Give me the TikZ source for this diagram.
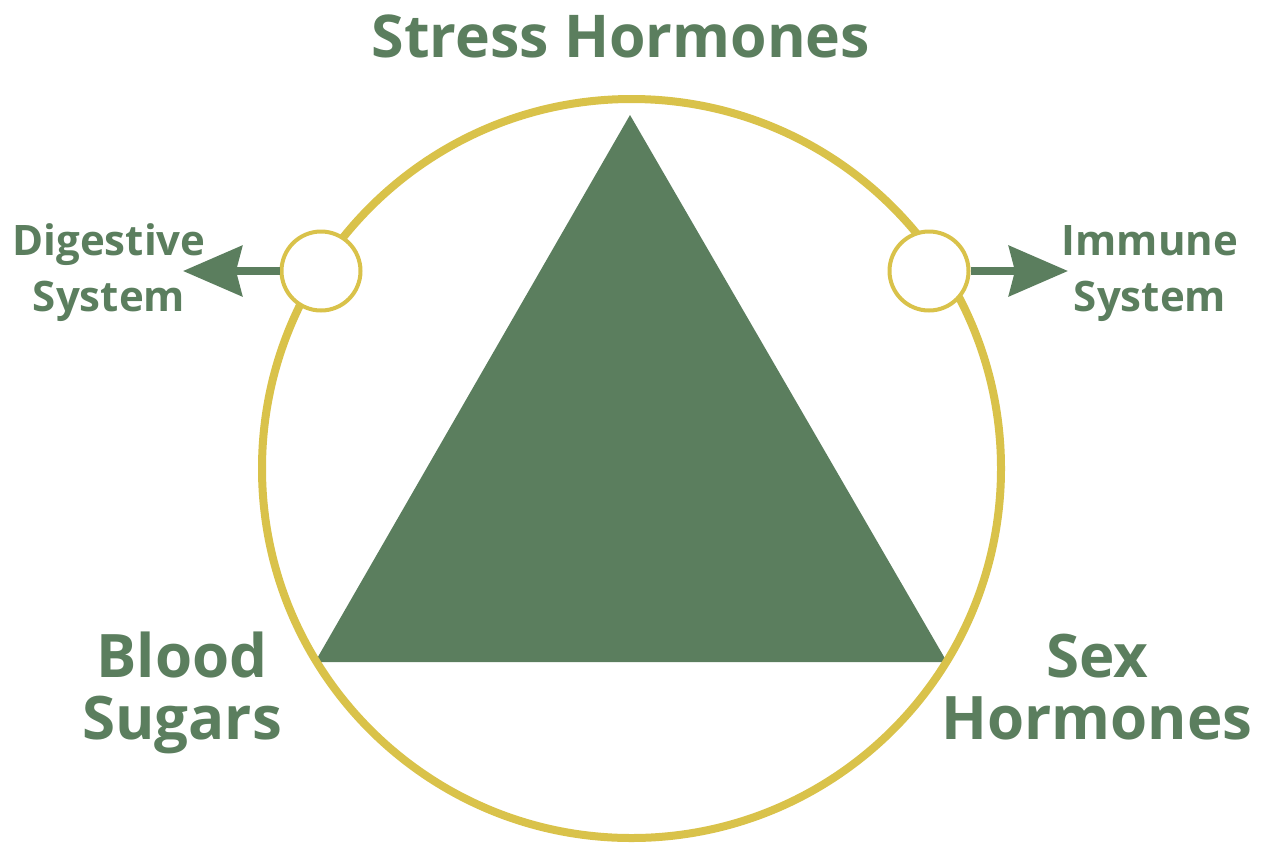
\documentclass[tikz,border=0pt]{standalone}
\usepackage{fontspec}
\setmainfont{Open Sans}
\usetikzlibrary{arrows.meta}
\definecolor{leaf}{HTML}{5B7E5E}
\definecolor{mustard}{HTML}{D9C24A}
\tikzset{
  biglabel/.style={text=leaf, font=\bfseries\fontsize{60}{62}\selectfont, align=center, anchor=base, inner sep=0pt},
  smalllabel/.style={text=leaf, font=\bfseries\fontsize{42}{56}\selectfont, align=center, anchor=base, inner sep=0pt},
  ring/.style={draw=mustard, line width=8pt},
  port/.style={circle, draw=mustard, fill=white, line width=4pt, minimum size=79pt, inner sep=0pt},
  outarrow/.style={draw=leaf, line width=8pt, -{Stealth[length=59pt, width=50pt, inset=6pt]}}
}
\begin{document}
\begin{tikzpicture}[x=1pt, y=-1pt]
\useasboundingbox (0,0) rectangle (1265,847);
\fill[leaf] (630,115) -- (947,662) -- (315,662) -- cycle;
\draw[ring] (631.5,468.5) circle[radius=369.5];
\node[port] (lp) at (321,271) {};
\node[port] (rp) at (929,271) {};
\coordinate (lt) at (183,271);
\coordinate (rt) at (1068,271);
\draw[outarrow] (lp.west) -- (lt);
\draw[outarrow] (rp.east) -- (rt);
\node[biglabel, font=\bfseries\fontsize{59}{62}\selectfont] (stress) at (621,57) {Stress Hormones};
\node[biglabel] (blood) at (182,739) {Blood\\Sugars};
\node[biglabel] (sex) at (1097,739) {Sex\\Hormones};
\node[smalllabel] (dig) at (109,311) {Digestive\\System};
\node[smalllabel] (imm) at (1150,311) {Immune\\System};
\end{tikzpicture}
\end{document}
